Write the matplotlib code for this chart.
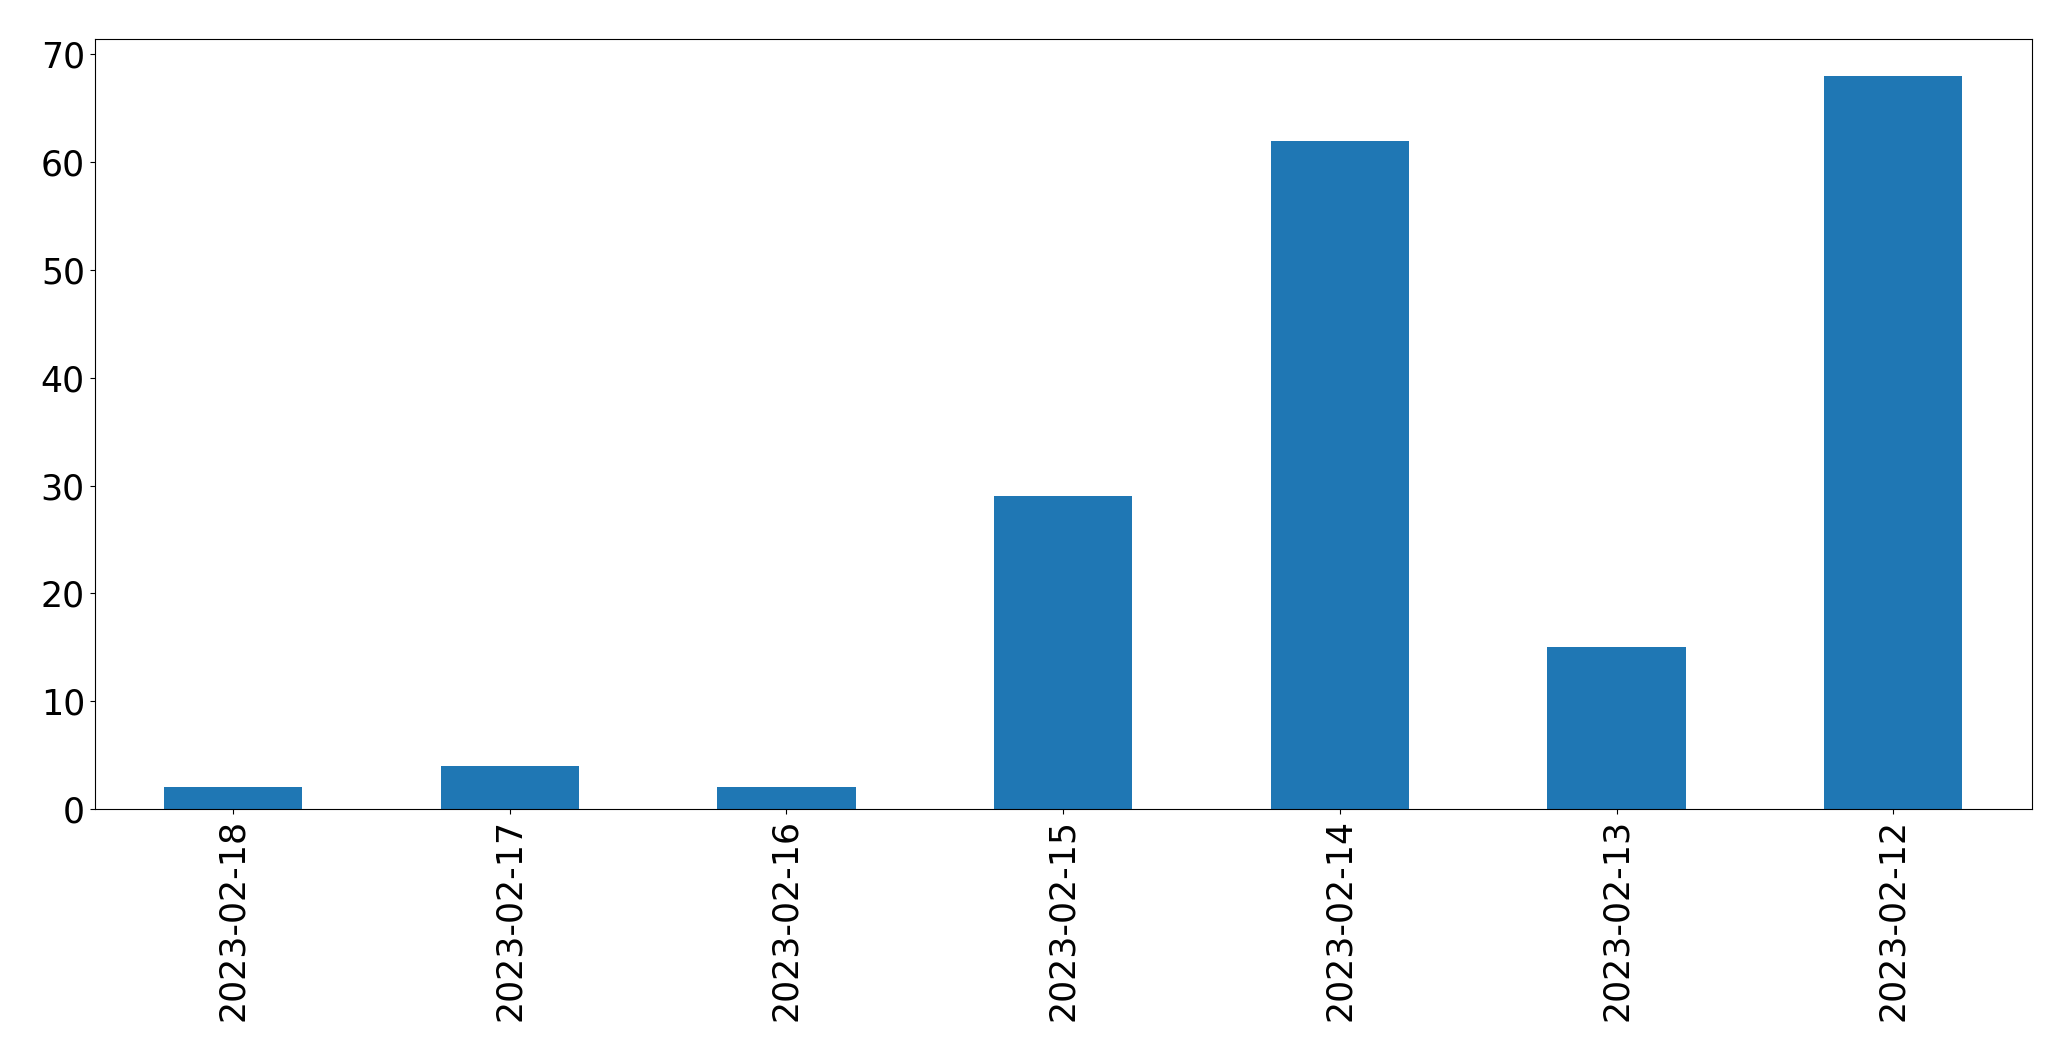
import pandas as pd
import matplotlib
matplotlib.use("Agg")
import matplotlib.pyplot as plt

# dates as they appear on the x axis (newest first)
dates = ['2023-02-18', '2023-02-17', '2023-02-16', '2023-02-15',
         '2023-02-14', '2023-02-13', '2023-02-12']
counts = [2, 4, 2, 29, 62, 15, 68]

s = pd.Series(counts, index=dates)

plt.rcParams['font.size'] = 25

fig = plt.figure(figsize=(20.71, 10.61), dpi=100)
ax = fig.add_axes([0.0457, 0.2375, 0.9353, 0.7255])
s.plot(kind='bar', ax=ax, color='#1f77b4')

fig.savefig('out.png', dpi=100)
